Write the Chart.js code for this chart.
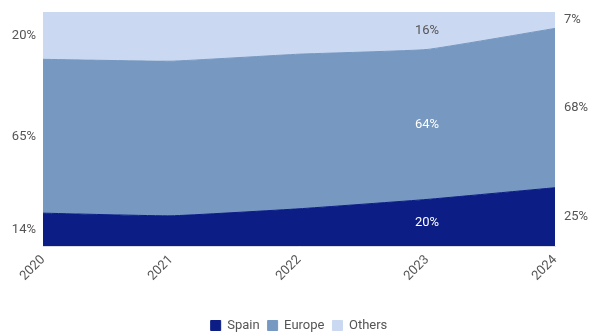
<!DOCTYPE html>
<html>
<head>
<meta charset="utf-8">
<script src="https://cdn.jsdelivr.net/npm/chart.js@4.4.1/dist/chart.umd.min.js"></script>
<style>
  html, body { margin: 0; padding: 0; background: #fff; }
  #wrap { width: 593px; height: 336px; }
</style>
</head>
<body>
<div id="wrap"><canvas id="c"></canvas></div>
<script>
/* ========= Datos ========= */
const years  = ['2020', '2021', '2022', '2023', '2024'];
const spain  = [14, 13, 16, 20, 25];
const europe = [65, 66, 66, 64, 68];
const others = [20, 21, 18, 16, 7];

const seriesNames  = ['Spain', 'Europe', 'Others'];
const seriesColors = ['#0c1d86', '#7698c1', '#cad8f1'];

// Etiquetas visibles: primer año a la izquierda, 2023 dentro, último año a la derecha
const labelLeftIdx  = 0;
const labelMidIdx   = 3;
const labelRightIdx = 4;

/* ========= Normalización al 100% ========= */
const raw = [spain, europe, others];
const totals = years.map((_, i) => raw.reduce((s, arr) => s + arr[i], 0));
const shares = raw.map(arr => arr.map((v, i) => v / totals[i] * 100));

const TEXT = '#555';
const FONT = 'Roboto, "Noto Sans", sans-serif';

/* ========= Plugin: etiquetas de porcentaje por banda ========= */
const bandLabels = {
  id: 'bandLabels',
  afterDatasetsDraw(chart) {
    const { ctx, chartArea, scales: { x, y } } = chart;
    ctx.save();
    ctx.font = `13px ${FONT}`;
    ctx.textBaseline = 'middle';

    const mid = (k, i) => {
      let base = 0;
      for (let j = 0; j < k; j++) base += shares[j][i];
      return y.getPixelForValue(base + shares[k][i] / 2);
    };

    raw.forEach((arr, k) => {
      // izquierda
      ctx.fillStyle = TEXT;
      ctx.textAlign = 'right';
      ctx.fillText(arr[labelLeftIdx] + '%', chartArea.left - 7, mid(k, labelLeftIdx));
      // derecha
      ctx.textAlign = 'left';
      ctx.fillText(arr[labelRightIdx] + '%', chartArea.right + 9, mid(k, labelRightIdx));
      // dentro
      ctx.textAlign = 'center';
      ctx.fillStyle = k === 2 ? TEXT : '#fff';
      ctx.fillText(arr[labelMidIdx] + '%', x.getPixelForValue(labelMidIdx), mid(k, labelMidIdx));
    });
    ctx.restore();
  }
};

/* ========= Plugin: leyenda un poco más pegada al borde inferior ========= */
const legendLower = {
  id: 'legendLower',
  beforeInit(chart) {
    const fit = chart.legend.fit;
    chart.legend.fit = function () {
      fit.call(this);
      this.height -= 6;
    };
  }
};

new Chart(document.getElementById('c'), {
  type: 'line',
  data: {
    labels: years,
    datasets: shares.map((d, k) => ({
      label: seriesNames[k],
      data: d,
      fill: k === 0 ? 'origin' : '-1',
      backgroundColor: seriesColors[k],
      borderColor: seriesColors[k],
      borderWidth: 1,
      pointRadius: 0,
      tension: 0.1,
    }))
  },
  options: {
    responsive: true,
    maintainAspectRatio: false,
    animation: false,
    layout: { padding: { top: 12, right: 38, left: 43, bottom: 0 } },
    scales: {
      x: {
        offset: false,
        grid: { display: false, drawTicks: false },
        border: { display: true, color: '#e0e0e0' },
        ticks: {
          color: TEXT,
          font: { family: FONT, size: 13 },
          minRotation: 45,
          maxRotation: 45,
          padding: 6,
        },
        // deja aire entre las fechas y la leyenda
        afterFit(scale) { scale.height += 21; },
      },
      y: {
        display: false,
        stacked: true,
        min: 0,
        max: 100,
      },
    },
    plugins: {
      legend: {
        position: 'bottom',
        labels: {
          color: TEXT,
          font: { family: FONT, size: 13 },
          boxWidth: 10,
          boxHeight: 10,
          padding: 8,
        },
      },
      tooltip: { enabled: false },
    },
  },
  plugins: [bandLabels, legendLower],
});
</script>
</body>
</html>
